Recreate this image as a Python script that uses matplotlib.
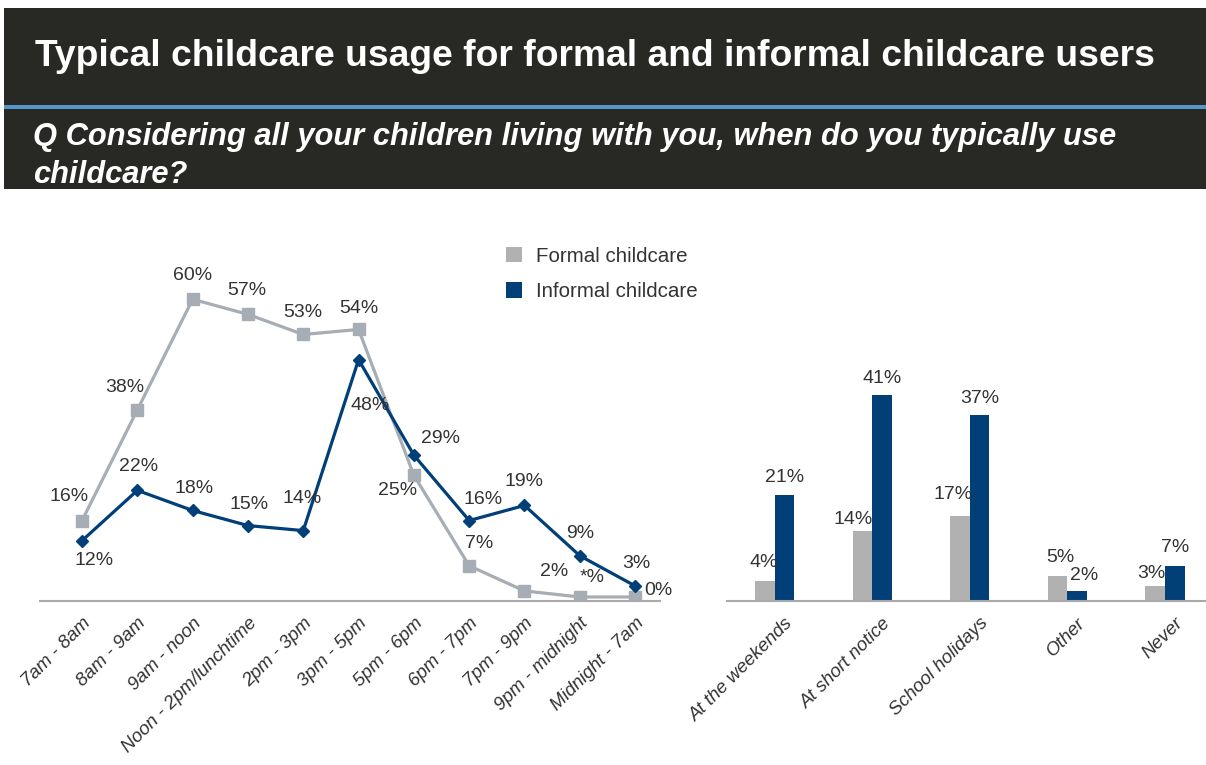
import numpy as np
import matplotlib.pyplot as plt
from matplotlib.patches import Rectangle

plt.rcParams['font.family'] = ['Liberation Sans', 'DejaVu Sans']

# time of day (line chart)
times = ['7am - 8am', '8am - 9am', '9am - noon', 'Noon - 2pm/lunchtime', '2pm - 3pm',
         '3pm - 5pm', '5pm - 6pm', '6pm - 7pm', '7pm - 9pm', '9pm - midnight', 'Midnight - 7am']
formal_t = [16, 38, 60, 57, 53, 54, 25, 7, 2, 0.8, 0.8]
formal_t_lab = ['16%', '38%', '60%', '57%', '53%', '54%', '25%', '7%', '2%', '*%', '0%']
informal_t = [12, 22, 18, 15, 14, 48, 29, 16, 19, 9, 3]
informal_t_lab = ['12%', '22%', '18%', '15%', '14%', '48%', '29%', '16%', '19%', '9%', '3%']

# other occasions (bar chart)
occasions = ['At the weekends', 'At short notice', 'School holidays', 'Other', 'Never']
formal_o = [4, 14, 17, 5, 3]
informal_o = [21, 41, 37, 2, 7]

GREY_LINE = '#a7adb4'
GREY_BAR = '#b1b1b1'
BLUE = '#003f77'
TXT = '#333333'
LBL = 14

fig = plt.figure(figsize=(12.06, 7.65), dpi=100)

# header
W, H = 1206, 765
def fy(y):
    return 1 - y / H
fig.patches.append(Rectangle((4 / W, fy(189)), 1, (189 - 8) / H, transform=fig.transFigure,
                             facecolor='#282825', edgecolor='none', zorder=0))
fig.patches.append(Rectangle((4 / W, fy(109)), 1, 4 / H, transform=fig.transFigure,
                             facecolor='#5597cb', edgecolor='none', zorder=1))
fig.text(35 / W, fy(57), 'Typical childcare usage for formal and informal childcare users',
         color='white', fontsize=26.8, fontweight='bold', va='center', ha='left')
fig.text(33 / W, fy(137), 'Q Considering all your children living with you, when do you typically use',
         color='white', fontsize=22.2, fontweight='bold', style='italic', va='center', ha='left')
fig.text(33 / W, fy(175), 'childcare?',
         color='white', fontsize=22.2, fontweight='bold', style='italic', va='center', ha='left')

# line chart
ax = fig.add_axes([40 / W, fy(601), 620 / W, 352 / H])
x = np.arange(len(times))
ax.plot(x, formal_t, color=GREY_LINE, lw=2.3, marker='s', ms=9, mec=GREY_LINE, zorder=2,
        label='Formal childcare')
ax.plot(x, informal_t, color=BLUE, lw=2.3, marker='D', ms=6.5, mec=BLUE, zorder=3,
        label='Informal childcare')
ax.set_xlim(-0.76, 10.45)
ax.set_ylim(0, 70)

off_f = [(-9, 17), (-9, 16), (0, 17), (-1, 17), (0, 16), (0, 15), (-12, -11), (7, 16), (21, 14), (9, 14), (17, 5)]
off_i = [(9, -14), (1, 17), (1, 16), (1, 15), (-1, 23), (8, -33), (19, 12), (10, 15), (0, 17), (0, 16), (1, 16)]
for i in range(len(times)):
    ax.annotate(formal_t_lab[i], (x[i], formal_t[i]), xytext=off_f[i], textcoords='offset points',
                ha='center', va='center', fontsize=LBL, color=TXT, zorder=4)
    ax.annotate(informal_t_lab[i], (x[i], informal_t[i]), xytext=off_i[i], textcoords='offset points',
                ha='center', va='center', fontsize=LBL, color=TXT, zorder=4)

ax.set_xticks(x)
ax.set_xticklabels(times, rotation=45, ha='right', va='top', rotation_mode='anchor',
                   fontsize=13.5, style='italic', color=TXT)
ax.tick_params(axis='x', length=0, pad=10)
ax.set_yticks([])
for s in ['top', 'right', 'left']:
    ax.spines[s].set_visible(False)
ax.spines['bottom'].set_color('#a9a9a9')
ax.spines['bottom'].set_linewidth(1.5)
ax.patch.set_alpha(0)

# legend
lg_h = [Rectangle((0, 0), 1, 1, facecolor=GREY_BAR), Rectangle((0, 0), 1, 1, facecolor=BLUE)]
fig.legend(lg_h, ['Formal childcare', 'Informal childcare'], loc='upper left',
           bbox_to_anchor=(487 / W, fy(228)), frameon=False, fontsize=14.8,
           handlelength=0.82, handleheight=0.82, handletextpad=0.65, labelspacing=0.78,
           labelcolor=TXT)

# bar chart
bx = fig.add_axes([727 / W, fy(601), 478 / W, 352 / H])
xb = np.arange(len(occasions))
bw = 0.2
bx.bar(xb - bw / 2, formal_o, bw, color=GREY_BAR, zorder=2)
bx.bar(xb + bw / 2, informal_o, bw, color=BLUE, zorder=2)
bx.set_xlim(-0.49, 4.41)
bx.set_ylim(0, 70)
off_bf = [(-1, 13), (-7, 8), (-5, 15), (2, 13), (-3, 9)]
off_bi = [(0, 13), (0, 12), (0, 12), (5, 11), (0, 13)]
for i in range(len(occasions)):
    bx.annotate(f'{formal_o[i]}%', (xb[i] - bw / 2, formal_o[i]), xytext=off_bf[i],
                textcoords='offset points', ha='center', va='center', fontsize=LBL, color=TXT)
    bx.annotate(f'{informal_o[i]}%', (xb[i] + bw / 2, informal_o[i]), xytext=off_bi[i],
                textcoords='offset points', ha='center', va='center', fontsize=LBL, color=TXT)
bx.set_xticks(xb + 0.1)
bx.set_xticklabels(occasions, rotation=45, ha='right', va='top', rotation_mode='anchor',
                   fontsize=13.5, style='italic', color=TXT)
bx.tick_params(axis='x', length=0, pad=10)
bx.set_yticks([])
for s in ['top', 'right', 'left']:
    bx.spines[s].set_visible(False)
bx.spines['bottom'].set_color('#a9a9a9')
bx.spines['bottom'].set_linewidth(1.5)
bx.patch.set_alpha(0)

fig.savefig('out.png', dpi=100)
